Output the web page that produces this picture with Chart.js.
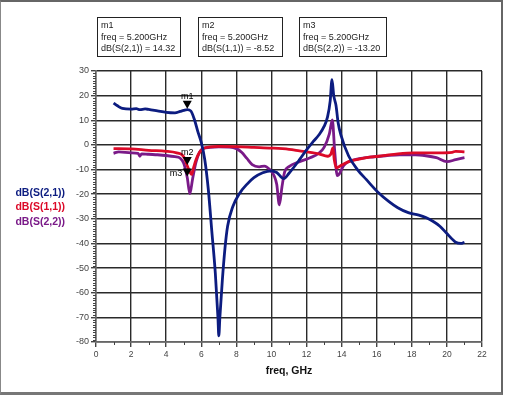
<!DOCTYPE html>
<html>
<head>
<meta charset="utf-8">
<script src="https://cdn.jsdelivr.net/npm/chart.js@4.4.1/dist/chart.umd.min.js"></script>
<style>
body{margin:0;background:#fff;}
#wrap{position:relative;width:506px;height:395px;font-family:"Liberation Sans",Arial,sans-serif;}
#frame{position:absolute;left:0;top:0;width:503px;height:395px;box-sizing:border-box;border-top:2px solid #666;border-left:1px solid #888;border-right:2px solid #666;border-bottom:3px solid #777;pointer-events:none;}
.mbox{position:absolute;top:17px;height:40px;box-sizing:border-box;border:1px solid #222;font-size:9px;line-height:11.5px;color:#222;padding:2px 0 0 3px;white-space:nowrap;}
.lg{position:absolute;right:441px;font-size:10.5px;font-weight:bold;white-space:nowrap;}
</style>
</head>
<body>
<div id="wrap">
<canvas id="sparams" width="506" height="395"></canvas>
<div class="mbox" style="left:97px;width:84px;">m1<br>freq = 5.200GHz<br>dB(S(2,1)) = 14.32</div>
<div class="mbox" style="left:198px;width:85px;">m2<br>freq = 5.200GHz<br>dB(S(1,1)) = -8.52</div>
<div class="mbox" style="left:299px;width:88px;">m3<br>freq = 5.200GHz<br>dB(S(2,2)) = -13.20</div>
<div class="lg" style="top:186px;color:#0c1c80;">dB(S(2,1))</div>
<div class="lg" style="top:200px;color:#dc0a28;">dB(S(1,1))</div>
<div class="lg" style="top:215px;color:#7a1a88;">dB(S(2,2))</div>
<div id="frame"></div>
</div>
<script>
// S21 trace
var s21_freq = [1.0,1.2,1.5,2.0,2.3,2.5,2.8,3.0,3.5,4.0,4.5,4.8,5.0,5.2,5.4,5.6,5.8,6.0,6.2,6.4,6.6,6.8,6.95,7.0,7.06,7.2,7.35,7.5,7.8,8.2,8.6,9.0,9.5,10.0,10.3,10.7,11.0,11.6,12.0,12.4,12.7,13.0,13.2,13.35,13.45,13.55,13.68,13.8,13.96,14.4,14.9,15.4,16.1,16.7,17.2,17.8,18.4,18.8,19.2,19.6,20.0,20.5,20.8,21.0];
var s21_db = [17.0,16.0,14.8,14.5,14.7,14.3,14.6,14.4,13.8,13.2,13.0,13.6,14.0,14.3,13.8,10.5,5.5,1.0,-6,-18,-35,-52,-70,-77.5,-70,-55,-42,-33,-25,-19.5,-16,-13.3,-11.3,-10.5,-11.2,-13.7,-11.5,-6,-2,1.5,4,7.5,11.5,18,26.5,20,16,9,4,-4.5,-10,-14,-19.4,-23,-25.5,-27.5,-28.5,-29.5,-31,-33,-36,-39.5,-40,-39.5];
// S11 trace
var s11_freq = [1.0,2.0,3.0,4.0,4.6,4.9,5.05,5.2,5.35,5.45,5.55,5.7,5.9,6.1,6.5,7.0,8.0,9.0,10.0,11.0,11.6,12.2,12.7,13.2,13.4,13.5,13.58,13.7,14.0,14.4,15.0,15.6,16.1,17.1,18.1,19.5,20.3,20.5,21.0];
var s11_db = [-1.5,-1.6,-2.2,-2.6,-3.2,-4,-5.5,-8.5,-11,-12,-9.5,-6,-3,-1.5,-0.8,-0.6,-0.7,-1,-1.3,-1.8,-2.4,-3,-3.6,-4.6,-3.5,-1.2,-6,-9.3,-8.2,-6.8,-5.8,-5,-4.6,-3.7,-3.2,-3.2,-3.0,-2.6,-2.8];
// S22 trace
var s22_freq = [1.0,1.3,2.0,2.4,2.5,2.6,3.0,3.5,4.0,4.5,4.8,5.0,5.2,5.35,5.5,5.7,5.9,6.1,6.5,7.0,7.6,8.0,8.3,8.6,8.9,9.3,9.6,9.9,10.15,10.3,10.45,10.6,10.75,11.0,11.6,12.2,12.7,13.0,13.3,13.47,13.6,13.75,13.85,14.1,14.4,15.0,15.6,16.5,17.3,18.2,18.8,19.4,20.0,20.5,21.0];
var s22_db = [-3.4,-2.8,-3.2,-3.4,-4.6,-3.6,-3.8,-4,-4.3,-4.8,-5.4,-7.5,-13.2,-19.8,-14,-7,-3,-1.5,-1,-0.8,-0.9,-1.5,-3,-5.5,-8,-8.9,-8.6,-10,-12.5,-16,-24.3,-17,-11,-8.8,-6.8,-5.2,-3.4,-1,4.5,10.2,-2,-12.5,-12,-8.5,-6.8,-5.6,-5,-4.4,-4,-4,-4.4,-5.2,-6.8,-6,-5.2];
// markers
var marker_names = ["m1","m2","m3"];
var marker_freq = [5.2,5.2,5.2];
var marker_db = [14.32,-8.52,-13.20];

var x_ticks = [0,2,4,6,8,10,12,14,16,18,20,22];
var y_ticks = [30,20,10,0,-10,-20,-30,-40,-50,-60,-70,-80];

function points(xs, ys){
    var out = [];
    for(var i = 0; i < xs.length; i++){
        out.push({x: xs[i], y: ys[i]});
    }
    return out;
}

var minorTicks = {
    id: "minorTicks",
    afterDraw: function(chart){
        var c = chart.ctx;
        var xs = chart.scales.x, ys = chart.scales.y;
        c.save();
        c.strokeStyle = "#444";
        c.lineWidth = 1;
        c.beginPath();
        for(var v = -80; v <= 30; v++){
            if(v % 10 == 0) continue;
            var py = Math.round(ys.getPixelForValue(v)) + 0.5;
            c.moveTo(xs.left - 3, py);
            c.lineTo(xs.left, py);
        }
        for(var f = 1; f < 22; f += 2){
            var px = Math.round(xs.getPixelForValue(f)) + 0.5;
            c.moveTo(px, ys.bottom);
            c.lineTo(px, ys.bottom + 3);
        }
        c.stroke();
        c.restore();
    }
};

var markers = {
    id: "markers",
    afterDatasetsDraw: function(chart){
        var c = chart.ctx;
        var xs = chart.scales.x, ys = chart.scales.y;
        c.save();
        c.fillStyle = "#000";
        c.font = "9px 'Liberation Sans', Arial, sans-serif";
        for(var i = 0; i < marker_names.length; i++){
            var px = xs.getPixelForValue(marker_freq[i]);
            var py = ys.getPixelForValue(marker_db[i]);
            c.beginPath();
            c.moveTo(px, py - 1);
            c.lineTo(px - 4.5, py - 9);
            c.lineTo(px + 4.5, py - 9);
            c.closePath();
            c.fill();
            if(i == 2){
                c.textAlign = "right";
                c.textBaseline = "middle";
                c.fillText(marker_names[i], px - 5, py - 4);
            }
            else{
                c.textAlign = "center";
                c.textBaseline = "bottom";
                c.fillText(marker_names[i], px, py - 9);
            }
        }
        c.restore();
    }
};

function line(label, color, data){
    return {
        label: label,
        data: data,
        borderColor: color,
        backgroundColor: color,
        borderWidth: 2.8,
        pointRadius: 0,
        cubicInterpolationMode: "monotone",
        fill: false
    };
}

var ctx = document.getElementById("sparams").getContext("2d");
var sChart = new Chart(ctx, {
    type: "line",
    data: {
        datasets: [
            line("dB(S(2,1))", "#0c1c80", points(s21_freq, s21_db)),
            line("dB(S(1,1))", "#dc0a28", points(s11_freq, s11_db)),
            line("dB(S(2,2))", "#7a1a88", points(s22_freq, s22_db))
        ]
    },
    options: {
        responsive: false,
        animation: false,
        events: [],
        layout: {padding: {top: 71, right: 24, left: 0, bottom: 0}},
        plugins: {legend: {display: false}, tooltip: {enabled: false}},
        scales: {
            x: {
                type: "linear",
                min: 0,
                max: 22,
                afterBuildTicks: function(s){ s.ticks = x_ticks.map(function(v){ return {value: v}; }); },
                afterFit: function(s){ s.height = 53; },
                ticks: {color: "#444", font: {size: 8.5, family: "'Liberation Sans', Arial"}, padding: 3, maxRotation: 0},
                grid: {color: "#2a2a2a", lineWidth: 1.4, tickLength: 5, tickColor: "#444"},
                border: {color: "#666", width: 1.4},
                title: {display: true, text: "freq, GHz", color: "#111", font: {size: 10.5, weight: "bold", family: "'Liberation Sans', Arial"}, padding: {top: 2, bottom: 18}}
            },
            y: {
                min: -80,
                max: 30,
                afterBuildTicks: function(s){ s.ticks = y_ticks.map(function(v){ return {value: v}; }); },
                afterFit: function(s){ s.width = 96; },
                ticks: {color: "#444", font: {size: 9, family: "'Liberation Sans', Arial"}, padding: 2},
                grid: {color: "#2a2a2a", lineWidth: 1.4, tickLength: 5, tickColor: "#444"},
                border: {color: "#666", width: 1.4}
            }
        }
    },
    plugins: [minorTicks, markers]
});
</script>
</body>
</html>
